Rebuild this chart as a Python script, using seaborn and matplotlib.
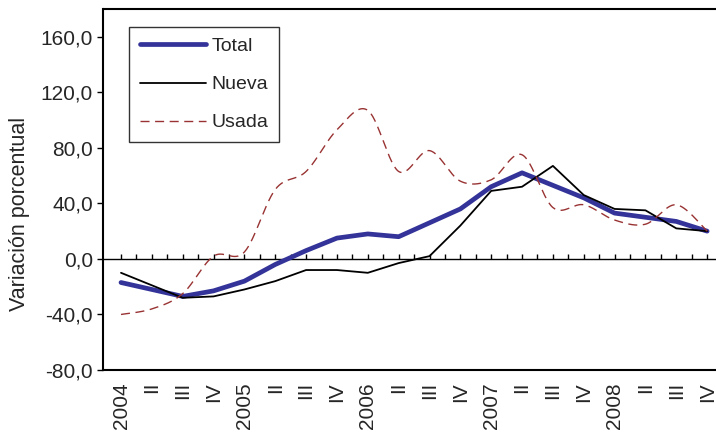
import numpy as np
import pandas as pd
import matplotlib
matplotlib.use("Agg")
import matplotlib.pyplot as plt
from matplotlib.ticker import FixedLocator, FuncFormatter
import seaborn as sns

# Quarterly change in prices, 2004 Q1 - 2008 Q4
quarters = ["2004", "II", "III", "IV",
            "2005", "II", "III", "IV",
            "2006", "II", "III", "IV",
            "2007", "II", "III", "IV",
            "2008", "II", "III", "IV"]
total = [-17, -22, -27, -23, -16, -4, 6, 15, 18, 16,
         26, 36, 52, 62, 53, 44, 33, 30, 27, 20]
nueva = [-10, -19, -28, -27, -22, -16, -8, -8, -10, -3,
         2, 24, 49, 52, 67, 46, 36, 35, 22, 20]
usada = [-40, -36, -25, 2, 5, 50, 63, 93, 107, 63,
         78, 56, 57, 75, 37, 39, 28, 25, 39, 20]
y_ticks = [-80, -40, 0, 40, 80, 120, 160]

sns.set_style("white")
plt.rcParams["font.family"] = ["Liberation Sans", "DejaVu Sans"]


def smooth_curve(xs, ys, steps=30):
    """Bezier smoothing through every point (spreadsheet-style smoothed line)."""
    p = np.column_stack([xs, ys]).astype(float)
    ext = np.vstack([p[0], p, p[-1]])
    out = [p[0]]
    t = np.linspace(0, 1, steps + 1)[1:, None]
    for i in range(len(p) - 1):
        p0, p1, p2, p3 = ext[i], ext[i + 1], ext[i + 2], ext[i + 3]
        c1 = p1 + (p2 - p0) / 6.0
        c2 = p2 - (p3 - p1) / 6.0
        seg = ((1 - t) ** 3) * p1 + 3 * ((1 - t) ** 2) * t * c1 \
            + 3 * (1 - t) * t ** 2 * c2 + t ** 3 * p2
        out.extend(seg)
    out = np.array(out)
    return out[:, 0], out[:, 1]


pos = np.arange(len(quarters))
df = pd.DataFrame({"pos": pos, "Total": total, "Nueva": nueva, "Usada": usada})
ux, uy = smooth_curve(df["pos"].values, df["Usada"].values)
df_usada = pd.DataFrame({"pos": ux, "Usada": uy})

W, H = 716, 434
fig = plt.figure(figsize=(W / 100, H / 100), dpi=100)
ax = fig.add_axes([103 / W, 64 / H, 617 / W, 361 / H])

sns.lineplot(data=df, x="pos", y="Total", ax=ax, color="#333399",
             linewidth=3.4, zorder=3, legend=False)
h_total = ax.lines[-1]
sns.lineplot(data=df, x="pos", y="Nueva", ax=ax, color="black",
             linewidth=1.3, zorder=4, legend=False)
h_nueva = ax.lines[-1]
sns.lineplot(data=df_usada, x="pos", y="Usada", ax=ax, color="#993333",
             linewidth=1.0, zorder=5, legend=False, sort=False)
h_usada = ax.lines[-1]
h_usada.set_linestyle((0, (6.5, 4.0)))

step_px = 30.85
x0 = -(121 - 103) / step_px
ax.set_xlim(x0, x0 + 617 / step_px)
ax.set_ylim(-80, 180)

# y axis
ax.yaxis.set_major_locator(FixedLocator(y_ticks))
ax.yaxis.set_major_formatter(FuncFormatter(lambda v, _: f"{v:.1f}".replace(".", ",")))
ax.tick_params(axis="y", which="major", left=True, direction="out",
               length=4.3, width=1.0, color="black", labelsize=15, pad=3)

# x axis: labels along the bottom, tick marks along the zero line
ax.spines["top"].set_position(("data", 0))
ax.spines["top"].set_linewidth(1.0)
ax.xaxis.set_major_locator(FixedLocator(pos))
ax.xaxis.set_minor_locator(FixedLocator(pos[:-1] + 0.5))
ax.set_xticklabels(quarters, rotation=90, fontsize=15)
ax.xaxis.set_ticks_position("top")
ax.tick_params(axis="x", which="both", top=True, bottom=False,
               labeltop=False, labelbottom=True, direction="out",
               length=3.6, width=1.0, color="black", pad=5)
ax.axhline(180, color="black", linewidth=1.5, clip_on=False, zorder=6)

for s in ("left", "bottom"):
    ax.spines[s].set_linewidth(1.5)
    ax.spines[s].set_color("black")
ax.spines["top"].set_color("black")
ax.spines["right"].set_visible(False)

ax.set_xlabel("")
ax.set_ylabel("")
fig.text(20 / W, 1 - 214 / H, "Variación porcentual", rotation=90,
         ha="center", va="center", fontsize=15.5)

leg = ax.legend([h_total, h_nueva, h_usada], ["Total", "Nueva", "Usada"],
                loc="upper left", bbox_to_anchor=((129 - 103) / 617, 1 - (27 - 9) / 361),
                borderaxespad=0, fontsize=14, handlelength=3.4,
                handletextpad=0.3, labelspacing=1.05, borderpad=0.55,
                frameon=True, fancybox=False, edgecolor="black")
leg.get_frame().set_linewidth(1.0)

fig.savefig("out.png", dpi=100)
